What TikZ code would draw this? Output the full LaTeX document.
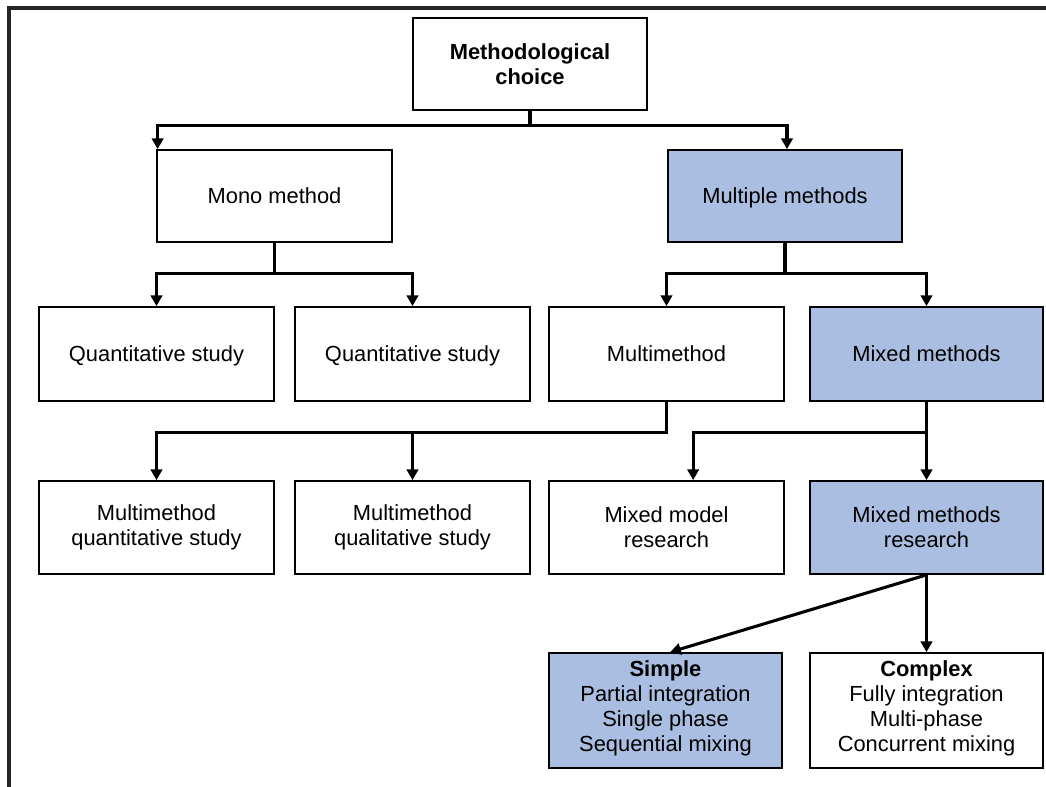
\documentclass[tikz,border=0pt]{standalone}
\usepackage{fontspec}
\setmainfont{Liberation Sans}
\usetikzlibrary{arrows.meta}
\definecolor{boxblue}{RGB}{170,190,225}
\begin{document}
\begin{tikzpicture}[x=0.75pt,y=-0.75pt,
  box/.style={draw=black, line width=1.3pt, fill=white, align=center, inner sep=0pt,
    minimum width=176pt, minimum height=69pt, font=\fontsize{16.4}{18.6}\selectfont},
  oneline/.style={text depth=0pt},
  fourline/.style={text depth=6.5pt},
  hl/.style={fill=boxblue},
  arr/.style={line width=2.3pt, -{Triangle[width=8.5pt,length=8pt]}},
  framestroke/.style={line width=2.4pt, draw=black!85}]
\useasboundingbox (0,0) rectangle (1046,787);

% outer frame (top and left edges)
\draw[framestroke] (1046,8) -| (9,787);

% level 0
\node[box] (meth) at (530,64) {\textbf{Methodological}\\\textbf{choice}};

% level 1
\node[box, oneline] (mono) at (274.5,196) {Mono method};
\node[box, oneline, hl] (mult) at (785,196) {Multiple methods};

% level 2
\node[box, oneline, minimum height=70.5pt] (q1) at (156.5,354) {Quantitative study};
\node[box, oneline, minimum height=70.5pt] (q2) at (412.5,354) {Quantitative study};
\node[box, oneline, minimum height=70.5pt] (mm) at (666.5,354) {Multimethod};
\node[box, oneline, hl, minimum height=70.5pt, minimum width=174.75pt] (mx) at (926.5,354) {Mixed methods};

% level 3
\node[box, minimum height=69.75pt] (mmq) at (156.5,527.5) {Multimethod\\quantitative study};
\node[box, minimum height=69.75pt] (mmql) at (412.5,527.5) {Multimethod\\qualitative study};
\node[box, minimum height=69.75pt] (mmr) at (666.5,527.5) {Mixed model\\research};
\node[box, hl, minimum height=69.75pt, minimum width=174.75pt] (mxr) at (926.5,527.5) {Mixed methods\\research};

% level 4
\node[box, fourline, hl, minimum height=86.25pt, minimum width=174.75pt] (simple) at (665.5,710.5)
  {\textbf{Simple}\\Partial integration\\Single phase\\Sequential mixing};
\node[box, fourline, minimum height=86.25pt, minimum width=174.75pt] (complex) at (926.5,710.5)
  {\textbf{Complex}\\Fully integration\\Multi-phase\\Concurrent mixing};

% connectors
\draw[arr] (meth.south) -- ++(0,15) -| ([xshift=1pt]mono.north west);
\draw[arr] (meth.south) ++(0,15) -| ([xshift=1.5pt]mult.north);

\draw[arr] (mono.south) -- ++(0,31) -| (q1.north);
\draw[arr] (mono.south) ++(0,31) -| (q2.north);

\draw[arr] (mult.south) -- ++(0,31) -| (mm.north);
\draw[arr] (mult.south) ++(0,31) -| (mx.north);

\draw[arr] (mm.south) -- ++(0,31) -| (mmq.north);
\draw[arr] (mm.south) ++(0,31) -| (mmql.north);

\draw[arr] (mx.south) -- (mxr.north);
\draw[arr] (mx.south) ++(0,31) -| ([xshift=20pt]mmr.north);

\draw[arr] (mxr.south) -- (complex.north);
\draw[arr] (mxr.south) -- ([xshift=3.5pt]simple.north);
\end{tikzpicture}
\end{document}
